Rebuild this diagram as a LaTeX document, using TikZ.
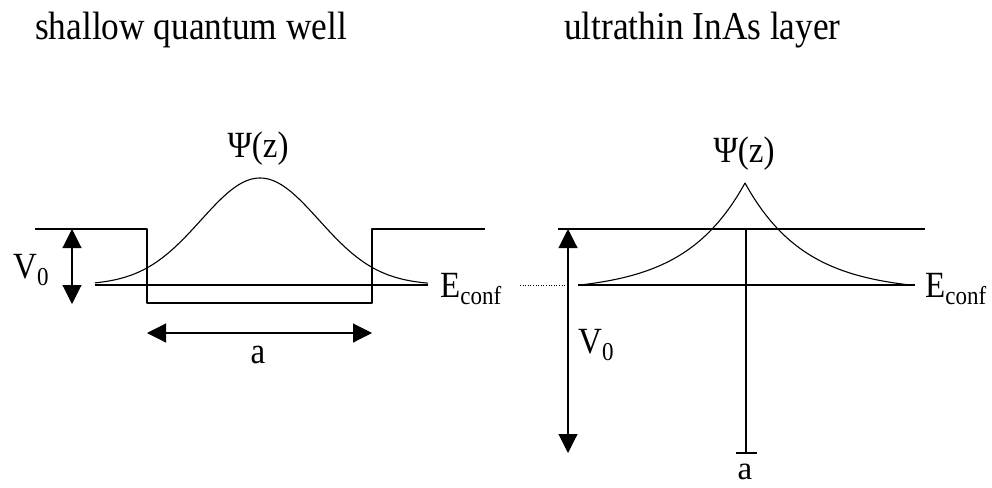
\documentclass[tikz,border=0pt]{standalone}
\usepackage{fontspec}
\usepackage{graphicx}
\setmainfont{Liberation Serif}
\usetikzlibrary{arrows.meta}
\newcommand{\vstr}[1]{\scalebox{1}[1.12]{#1}}
\newcommand{\subsc}[1]{\raisebox{-6.5pt}{\fontsize{23}{23}\selectfont #1}}
\tikzset{
  bigtri/.tip={Triangle[length=19pt,width=19pt]},
  dimarrow/.style={bigtri-bigtri, line width=1.1pt},
  wire/.style={line width=1.1pt, line join=round},
  curve/.style={line width=1.1pt, line join=round},
  lbl/.style={inner sep=0pt, font=\fontsize{33}{33}\selectfont},
  ttl/.style={inner sep=0pt, anchor=base west, font=\fontsize{35.3}{36}\selectfont},
}
\begin{document}
\begin{tikzpicture}[x=1pt,y=-1pt]
\useasboundingbox (0,0) rectangle (992,487);

% titles
\node[ttl] (t1) at (35,40) {\vstr{shallow quantum well}};
\node[ttl] (t2) at (564,40) {\vstr{ultrathin InAs layer}};

% ---------- left: shallow quantum well ----------
\coordinate (Ltl) at (35,229);
\coordinate (Lwl) at (147,229);
\coordinate (Lbl) at (147,303);
\coordinate (Lbr) at (372,303);
\coordinate (Lwr) at (372,229);
\coordinate (Ltr) at (485,229);
\draw[wire] (Ltl) -- (Lwl) -- (Lbl) -- (Lbr) -- (Lwr) -- (Ltr);

\coordinate (LEa) at (95,285);
\coordinate (LEb) at (428,285);
\draw[wire] (LEa) -- (LEb);

\coordinate (LVt) at (72,229);
\coordinate (LVb) at (72,304);
\draw[dimarrow] (LVt) -- (LVb);

\coordinate (Laa) at (147,333);
\coordinate (Lab) at (372,333);
\draw[dimarrow] (Laa) -- (Lab);

\draw[curve] plot[domain=95:428, samples=120, smooth] (\x, {285-107*exp(-0.5*((\x-260)/59)^2)});

\node[lbl, anchor=base] (psiL) at (258,157) {\vstr{Ψ(z)}};
\node[lbl, anchor=base west] (V0L) at (13,278) {\vstr{V\subsc{0}}};
\node[lbl, anchor=base west] (EL) at (440,297) {\vstr{E\subsc{conf}}};
\node[lbl, anchor=base] (aL) at (258,363) {\vstr{a}};

% ---------- right: ultrathin InAs layer ----------
\coordinate (Rtl) at (558,229);
\coordinate (Rtr) at (925,229);
\draw[wire] (Rtl) -- (Rtr);

\coordinate (RDa) at (520,285);
\coordinate (RDb) at (568,285);
\draw[line width=0.6pt, dotted] (RDa) -- (RDb);

\coordinate (REa) at (578,285);
\coordinate (REb) at (915,285);
\draw[wire] (REa) -- (REb);

\coordinate (RVt) at (568,229);
\coordinate (RVb) at (568,453);
\draw[dimarrow] (RVt) -- (RVb);

\coordinate (Rlt) at (746,229);
\coordinate (Rlb) at (746,453);
\coordinate (Rka) at (736,453);
\coordinate (Rkb) at (757,453);
\draw[wire] (Rlt) -- (Rlb);
\draw[wire] (Rka) -- (Rkb);

\draw[curve] plot[domain=580:745, samples=80, smooth] (\x, {285-102*(exp(-(745-\x)/60)-0.064)/0.936})
  -- plot[domain=745:913, samples=80, smooth] (\x, {285-102*(exp(-(\x-745)/60)-0.064)/0.936});

\node[lbl, anchor=base] (psiR) at (744,162) {\vstr{Ψ(z)}};
\node[lbl, anchor=base west] (V0R) at (578,353) {\vstr{V\subsc{0}}};
\node[lbl, anchor=base west] (ER) at (925,297) {\vstr{E\subsc{conf}}};
\node[lbl, anchor=base] (aR) at (745,479) {a};
\end{tikzpicture}
\end{document}
